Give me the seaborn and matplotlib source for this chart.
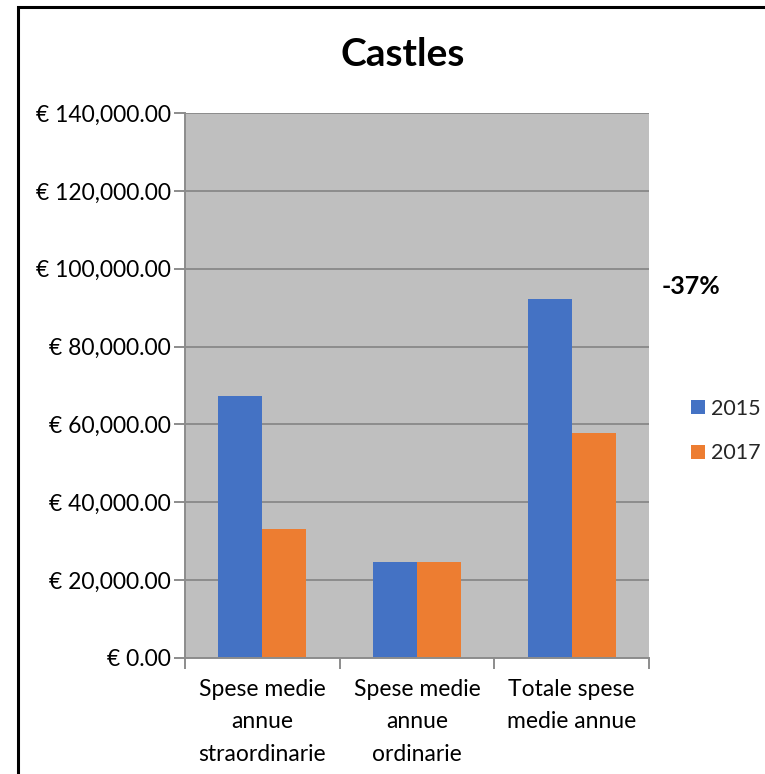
import matplotlib
matplotlib.use("Agg")
import matplotlib.pyplot as plt
import matplotlib.patches as mpatches
import matplotlib.ticker as mticker
import seaborn as sns
import pandas as pd

# Data
categories = ["Spese medie\nannue\nstraordinarie", "Spese medie\nannue\nordinarie", "Totale spese\nmedie annue"]
years = ["2015", "2017"]
values_2015 = [67400, 24700, 92100]
values_2017 = [33200, 24700, 57900]
y_ticks = [0, 20000, 40000, 60000, 80000, 100000, 120000, 140000]
change_label = "-37%"
title = "Castles"

colors = {"2015": "#4472C4", "2017": "#ED7D31"}

df = pd.DataFrame({
    "categoria": categories * 2,
    "anno": [years[0]] * 3 + [years[1]] * 3,
    "valore": values_2015 + values_2017,
})

sns.set_theme(style="white")
plt.rcParams["font.family"] = ["Lato", "DejaVu Sans"]

W, H = 765, 774
fig = plt.figure(figsize=(W / 100, H / 100), dpi=100)
ax = fig.add_axes([185 / W, 1 - 658 / H, 464 / W, 545 / H])
ax.set_facecolor("#BFBFBF")

sns.barplot(data=df, x="categoria", y="valore", hue="anno", palette=colors,
            width=0.57, ax=ax, legend=False, saturation=1, edgecolor="none")

ax.set_ylim(0, 140000)
ax.set_xlim(-0.5, 2.5)
ax.set_yticks(y_ticks)
ax.yaxis.set_major_formatter(mticker.FuncFormatter(lambda v, p: f"€ {v:,.2f}"))
ax.yaxis.grid(True, color="#8C8C8C", linewidth=1.4)
ax.set_axisbelow(True)
ax.set_xlabel("")
ax.set_ylabel("")

for s in ["top", "right"]:
    ax.spines[s].set_visible(False)
for s in ["left", "bottom"]:
    ax.spines[s].set_color("#8C8C8C")
    ax.spines[s].set_linewidth(1.4)

# Category labels between tick marks at group boundaries
ax.set_xticks([-0.5, 0.5, 1.5, 2.5])
ax.set_xticklabels([])
ax.set_xticks([0, 1, 2], minor=True)
ax.set_xticklabels(categories, minor=True, fontsize=16.5, linespacing=1.68, color="black")
ax.tick_params(axis="x", which="major", length=8, width=1.4, color="#8C8C8C", direction="out", bottom=True)
ax.tick_params(axis="x", which="minor", length=0, pad=15)
ax.tick_params(axis="y", length=8, width=1.4, color="#8C8C8C", direction="out", left=True,
               labelsize=16.5, labelcolor="black", pad=2)

fig.text(403 / W, 1 - 55 / H, title, ha="center", va="center", fontsize=28, fontweight="bold", color="black")
fig.text(662 / W, 1 - 286 / H, change_label, ha="left", va="center", fontsize=18, fontweight="bold", color="black")

handles = [mpatches.Patch(facecolor=colors[y], edgecolor="none", label=y) for y in years]
fig.legend(handles=handles, loc="center left", bbox_to_anchor=(691 / W, 1 - 431 / H),
           frameon=False, fontsize=15.5, handlelength=0.65, handleheight=0.65,
           handletextpad=0.3, labelspacing=1.15, borderaxespad=0, borderpad=0)

# Outer frame
frame = mpatches.Rectangle((18 / W, -0.05), 2.0, 1 - 7 / H + 0.05, transform=fig.transFigure,
                           fill=False, edgecolor="black", linewidth=2.2, clip_on=False)
fig.patches.append(frame)

fig.savefig("out.png", dpi=100, facecolor="white")
